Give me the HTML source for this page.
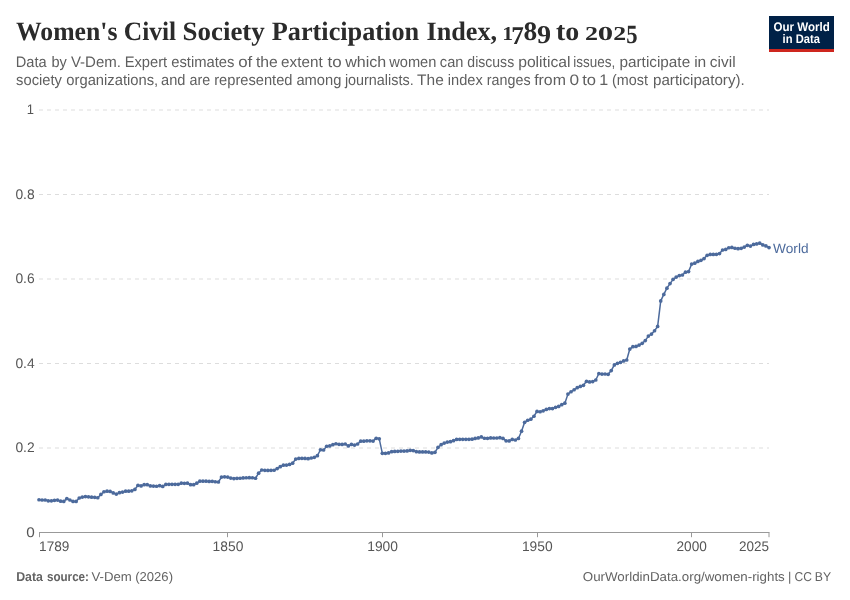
<!DOCTYPE html>
<html lang="en">
<head>
<meta charset="utf-8">
<title>Women's Civil Society Participation Index, 1789 to 2025</title>
<style>
html,body{margin:0;padding:0;background:#fff;}
body{width:850px;height:600px;overflow:hidden;font-family:"Liberation Sans",sans-serif;}
svg{display:block;}
text{white-space:pre;}
</style>
</head>
<body>
<svg width="850" height="600" viewBox="0 0 850 600" text-rendering="geometricPrecision">
<rect x="0" y="0" width="850" height="600" fill="#ffffff"/>

<text id="title" y="40.35" font-size="26.5" font-weight="bold" fill="#2b2b2b" font-family='"Liberation Serif", serif'><tspan x="16.10" textLength="101.36" lengthAdjust="spacingAndGlyphs">Women's</tspan> <tspan x="123.80" textLength="52.41" lengthAdjust="spacingAndGlyphs">Civil</tspan> <tspan x="182.54" textLength="82.26" lengthAdjust="spacingAndGlyphs">Society</tspan> <tspan x="271.79" textLength="147.35" lengthAdjust="spacingAndGlyphs">Participation</tspan> <tspan x="426.58" textLength="70.54" lengthAdjust="spacingAndGlyphs">Index,</tspan> <tspan><tspan x="502.24" textLength="10.87" lengthAdjust="spacingAndGlyphs" y="40.2" font-size="19.6">1</tspan><tspan x="511.33" textLength="12.56" lengthAdjust="spacingAndGlyphs" y="43.7" font-size="25.6">7</tspan><tspan x="523.54" textLength="13.71" lengthAdjust="spacingAndGlyphs" y="40.3" font-size="26.6">8</tspan><tspan x="537.03" textLength="14.06" lengthAdjust="spacingAndGlyphs" y="43.3" font-size="25.6">9</tspan></tspan><tspan y="40.35"> </tspan><tspan x="555.96" textLength="23.31" lengthAdjust="spacingAndGlyphs">to</tspan> <tspan><tspan x="584.95" textLength="13.00" lengthAdjust="spacingAndGlyphs" y="40.2" font-size="19.8">2</tspan><tspan x="597.81" textLength="15.37" lengthAdjust="spacingAndGlyphs" y="40.3" font-size="19.8">0</tspan><tspan x="613.36" textLength="12.88" lengthAdjust="spacingAndGlyphs" y="40.2" font-size="19.8">2</tspan><tspan x="626.19" textLength="11.31" lengthAdjust="spacingAndGlyphs" y="43.4" font-size="26.2">5</tspan></tspan><tspan y="40.35"> </tspan></text>
<text id="sub1" y="66.6" font-size="15.2" font-weight="normal" fill="#5f5f5f" font-family='"Liberation Sans", sans-serif'><tspan x="15.74" textLength="30.91" lengthAdjust="spacingAndGlyphs">Data</tspan> <tspan x="51.54" textLength="15.36" lengthAdjust="spacingAndGlyphs">by</tspan> <tspan x="70.90" textLength="50.11" lengthAdjust="spacingAndGlyphs">V-Dem.</tspan> <tspan x="124.64" textLength="42.59" lengthAdjust="spacingAndGlyphs">Expert</tspan> <tspan x="171.22" textLength="63.27" lengthAdjust="spacingAndGlyphs">estimates</tspan> <tspan x="238.23" textLength="14.08" lengthAdjust="spacingAndGlyphs">of</tspan> <tspan x="255.99" textLength="21.88" lengthAdjust="spacingAndGlyphs">the</tspan> <tspan x="281.10" textLength="41.52" lengthAdjust="spacingAndGlyphs">extent</tspan> <tspan x="327.48" textLength="14.14" lengthAdjust="spacingAndGlyphs">to</tspan> <tspan x="345.21" textLength="41.10" lengthAdjust="spacingAndGlyphs">which</tspan> <tspan x="389.20" textLength="47.22" lengthAdjust="spacingAndGlyphs">women</tspan> <tspan x="439.82" textLength="23.60" lengthAdjust="spacingAndGlyphs">can</tspan> <tspan x="467.35" textLength="46.82" lengthAdjust="spacingAndGlyphs">discuss</tspan> <tspan x="518.17" textLength="52.34" lengthAdjust="spacingAndGlyphs">political</tspan> <tspan x="573.21" textLength="41.96" lengthAdjust="spacingAndGlyphs">issues,</tspan> <tspan x="619.49" textLength="70.67" lengthAdjust="spacingAndGlyphs">participate</tspan> <tspan x="694.18" textLength="12.10" lengthAdjust="spacingAndGlyphs">in</tspan> <tspan x="709.89" textLength="25.70" lengthAdjust="spacingAndGlyphs">civil</tspan></text>
<text id="sub2" y="84.6" font-size="15.2" font-weight="normal" fill="#5f5f5f" font-family='"Liberation Sans", sans-serif'><tspan x="16.11" textLength="45.89" lengthAdjust="spacingAndGlyphs">society</tspan> <tspan x="66.32" textLength="91.87" lengthAdjust="spacingAndGlyphs">organizations,</tspan> <tspan x="161.12" textLength="24.39" lengthAdjust="spacingAndGlyphs">and</tspan> <tspan x="189.44" textLength="20.68" lengthAdjust="spacingAndGlyphs">are</tspan> <tspan x="214.23" textLength="78.29" lengthAdjust="spacingAndGlyphs">represented</tspan> <tspan x="296.42" textLength="45.00" lengthAdjust="spacingAndGlyphs">among</tspan> <tspan x="344.88" textLength="68.77" lengthAdjust="spacingAndGlyphs">journalists.</tspan> <tspan x="417.09" textLength="26.67" lengthAdjust="spacingAndGlyphs">The</tspan> <tspan x="447.84" textLength="34.96" lengthAdjust="spacingAndGlyphs">index</tspan> <tspan x="486.86" textLength="43.71" lengthAdjust="spacingAndGlyphs">ranges</tspan> <tspan x="534.19" textLength="31.71" lengthAdjust="spacingAndGlyphs">from</tspan> <tspan x="569.43" textLength="9.60" lengthAdjust="spacingAndGlyphs">0</tspan> <tspan x="582.28" textLength="13.82" lengthAdjust="spacingAndGlyphs">to</tspan> <tspan x="599.23" textLength="8.96" lengthAdjust="spacingAndGlyphs">1</tspan> <tspan x="612.05" textLength="35.87" lengthAdjust="spacingAndGlyphs">(most</tspan> <tspan x="653.00" textLength="91.71" lengthAdjust="spacingAndGlyphs">participatory).</tspan></text>
<g id="logo"><rect x="769" y="16" width="65" height="36" fill="#002147"/><rect x="769" y="49" width="65" height="3" fill="#ce261e"/>
<text id="logo1" x="773.53" y="30.6" font-size="12.4" fill="#ffffff" font-weight="bold" font-family='"Liberation Sans", sans-serif' textLength="56.19" lengthAdjust="spacingAndGlyphs">Our World</text>
<text id="logo2" x="782.58" y="42.5" font-size="12.4" fill="#ffffff" font-weight="bold" font-family='"Liberation Sans", sans-serif' textLength="37.33" lengthAdjust="spacingAndGlyphs">in Data</text>
</g>
<g id="grid" stroke="#dddddd" stroke-width="1" stroke-dasharray="4,4" fill="none">
<line x1="39" x2="769" y1="448.0" y2="448.0"/>
<line x1="39" x2="769" y1="363.5" y2="363.5"/>
<line x1="39" x2="769" y1="279.0" y2="279.0"/>
<line x1="39" x2="769" y1="194.5" y2="194.5"/>
<line x1="39" x2="769" y1="110.0" y2="110.0"/>
</g>
<text id="yl0" x="26.25" y="536.7" font-size="13.9" fill="#555555" font-weight="normal" font-family='"Liberation Sans", sans-serif' textLength="8.54" lengthAdjust="spacingAndGlyphs">0</text>
<text id="yl0_2" x="15.40" y="452.2" font-size="13.9" fill="#555555" font-weight="normal" font-family='"Liberation Sans", sans-serif' textLength="19.22" lengthAdjust="spacingAndGlyphs">0.2</text>
<text id="yl0_4" x="15.40" y="367.7" font-size="13.9" fill="#555555" font-weight="normal" font-family='"Liberation Sans", sans-serif' textLength="19.23" lengthAdjust="spacingAndGlyphs">0.4</text>
<text id="yl0_6" x="15.40" y="283.2" font-size="13.9" fill="#555555" font-weight="normal" font-family='"Liberation Sans", sans-serif' textLength="19.23" lengthAdjust="spacingAndGlyphs">0.6</text>
<text id="yl0_8" x="15.40" y="198.7" font-size="13.9" fill="#555555" font-weight="normal" font-family='"Liberation Sans", sans-serif' textLength="19.23" lengthAdjust="spacingAndGlyphs">0.8</text>
<text id="yl1" x="26.77" y="114.2" font-size="13.9" fill="#555555" font-weight="normal" font-family='"Liberation Sans", sans-serif' textLength="7.22" lengthAdjust="spacingAndGlyphs">1</text>
<g id="xaxis" stroke="#999999" stroke-width="1" fill="none">
<line x1="39" x2="769.5" y1="532.5" y2="532.5"/>
<line x1="39.5" x2="39.5" y1="532.5" y2="537.2"/>
<line x1="227.5" x2="227.5" y1="532.5" y2="537.2"/>
<line x1="382.5" x2="382.5" y1="532.5" y2="537.2"/>
<line x1="537.5" x2="537.5" y1="532.5" y2="537.2"/>
<line x1="691.5" x2="691.5" y1="532.5" y2="537.2"/>
<line x1="769" x2="769" y1="532.5" y2="537.2"/>
</g>
<text id="xl1789" x="39.12" y="551.0" font-size="13.9" fill="#555555" font-weight="normal" font-family='"Liberation Sans", sans-serif' textLength="30.30" lengthAdjust="spacingAndGlyphs">1789</text>
<text id="xl1850" x="212.61" y="551.0" font-size="13.9" fill="#555555" font-weight="normal" font-family='"Liberation Sans", sans-serif' textLength="30.72" lengthAdjust="spacingAndGlyphs">1850</text>
<text id="xl1900" x="367.21" y="551.0" font-size="13.9" fill="#555555" font-weight="normal" font-family='"Liberation Sans", sans-serif' textLength="30.72" lengthAdjust="spacingAndGlyphs">1900</text>
<text id="xl1950" x="521.91" y="551.0" font-size="13.9" fill="#555555" font-weight="normal" font-family='"Liberation Sans", sans-serif' textLength="30.72" lengthAdjust="spacingAndGlyphs">1950</text>
<text id="xl2000" x="676.51" y="551.0" font-size="13.9" fill="#555555" font-weight="normal" font-family='"Liberation Sans", sans-serif' textLength="30.31" lengthAdjust="spacingAndGlyphs">2000</text>
<text id="xl2025" x="739.02" y="551.0" font-size="13.9" fill="#555555" font-weight="normal" font-family='"Liberation Sans", sans-serif' textLength="30.00" lengthAdjust="spacingAndGlyphs">2025</text>
<g id="series"><polyline points="39.0,499.76 42.09,500.0 45.19,500.0 48.28,500.82 51.37,500.82 54.47,500.35 57.56,500.12 60.65,501.18 63.75,501.41 66.84,498.59 69.93,500.0 73.03,501.41 76.12,501.41 79.21,498.0 82.31,497.06 85.4,496.59 88.49,496.82 91.58,497.18 94.68,497.29 97.77,497.76 100.86,494.47 103.96,491.76 107.05,491.18 110.14,491.41 113.24,492.94 116.33,494.12 119.42,492.71 122.52,492.12 125.61,491.18 128.7,491.18 131.8,490.82 134.89,489.41 137.98,485.29 141.08,485.88 144.17,484.71 147.26,484.71 150.36,485.88 153.45,486.12 156.54,486.24 159.64,485.65 162.73,486.47 165.82,484.47 168.92,484.35 172.01,484.35 175.1,484.35 178.19,484.35 181.29,483.18 184.38,483.29 187.47,483.18 190.57,484.71 193.66,484.71 196.75,483.18 199.85,481.18 202.94,481.18 206.03,481.18 209.13,481.41 212.22,481.29 215.31,481.76 218.41,482.0 221.5,477.06 224.59,476.82 227.69,477.06 230.78,478.12 233.87,478.59 236.97,478.35 240.06,478.24 243.15,477.88 246.25,477.76 249.34,477.65 252.43,477.76 255.53,478.24 258.62,473.18 261.71,470.0 264.81,470.35 267.9,470.47 270.99,470.35 274.08,470.24 277.18,468.59 280.27,466.71 283.36,465.18 286.46,465.06 289.55,464.47 292.64,463.18 295.74,459.06 298.83,458.47 301.92,458.35 305.02,458.47 308.11,458.71 311.2,458.0 314.3,457.29 317.39,455.65 320.48,449.76 323.58,450.0 326.67,446.24 329.76,445.88 332.86,444.71 335.95,443.76 339.04,444.35 342.14,444.47 345.23,444.0 348.32,445.88 351.42,444.47 354.51,445.06 357.6,444.0 360.69,441.18 363.79,441.18 366.88,440.82 369.97,440.82 373.07,441.06 376.16,438.35 379.25,438.82 382.35,453.29 385.44,453.29 388.53,452.94 391.63,451.65 394.72,451.41 397.81,451.29 400.91,451.06 404.0,451.06 407.09,450.94 410.19,450.35 413.28,450.59 416.37,451.65 419.47,451.88 422.56,451.88 425.65,451.88 428.75,452.12 431.84,452.94 434.93,452.35 438.03,447.29 441.12,444.71 444.21,443.06 447.31,442.12 450.4,441.65 453.49,440.71 456.58,439.41 459.68,439.29 462.77,439.29 465.86,439.29 468.96,439.29 472.05,439.18 475.14,438.47 478.24,437.88 481.33,436.88 484.42,438.24 487.52,438.35 490.61,437.88 493.7,438.0 496.8,438.0 499.89,437.65 502.98,438.47 506.08,440.82 509.17,440.94 512.26,439.41 515.36,440.0 518.45,438.47 521.54,431.18 524.64,422.35 527.73,420.24 530.82,419.18 533.92,416.24 537.01,411.41 540.1,411.76 543.19,410.82 546.29,409.41 549.38,408.59 552.47,408.59 555.57,407.29 558.66,406.47 561.75,404.71 564.85,403.18 567.94,394.12 571.03,391.76 574.13,389.76 577.22,387.65 580.31,386.47 583.41,385.29 586.5,381.29 589.59,381.88 592.69,381.53 595.78,380.0 598.87,373.53 601.97,374.12 605.06,374.0 608.15,374.35 611.25,370.59 614.34,364.94 617.43,363.29 620.53,362.35 623.62,360.94 626.71,360.0 629.81,349.06 632.9,346.71 635.99,346.47 639.08,345.06 642.18,343.29 645.27,340.59 648.36,336.12 651.46,334.12 654.55,330.74 657.64,326.41 660.74,300.88 663.83,294.41 666.92,288.18 670.02,283.59 673.11,279.35 676.2,277.12 679.3,275.59 682.39,275.0 685.48,272.15 688.58,271.53 691.67,264.12 694.76,263.18 697.86,261.41 700.95,260.35 704.04,258.59 707.14,255.29 710.23,254.47 713.32,254.47 716.42,254.35 719.51,253.53 722.6,250.0 725.69,249.41 728.79,247.76 731.88,247.41 734.97,248.24 738.07,248.71 741.16,248.35 744.25,247.06 747.35,245.29 750.44,246.12 753.53,244.47 756.63,243.88 759.72,243.18 762.81,244.94 765.91,245.88 769.0,247.53" fill="none" stroke="#4c6a9c" stroke-width="1.5" stroke-linejoin="round" stroke-linecap="round"/>
<g fill="#4c6a9c"><circle cx="39.0" cy="499.76" r="1.85"/><circle cx="42.09" cy="500.0" r="1.85"/><circle cx="45.19" cy="500.0" r="1.85"/><circle cx="48.28" cy="500.82" r="1.85"/><circle cx="51.37" cy="500.82" r="1.85"/><circle cx="54.47" cy="500.35" r="1.85"/><circle cx="57.56" cy="500.12" r="1.85"/><circle cx="60.65" cy="501.18" r="1.85"/><circle cx="63.75" cy="501.41" r="1.85"/><circle cx="66.84" cy="498.59" r="1.85"/><circle cx="69.93" cy="500.0" r="1.85"/><circle cx="73.03" cy="501.41" r="1.85"/><circle cx="76.12" cy="501.41" r="1.85"/><circle cx="79.21" cy="498.0" r="1.85"/><circle cx="82.31" cy="497.06" r="1.85"/><circle cx="85.4" cy="496.59" r="1.85"/><circle cx="88.49" cy="496.82" r="1.85"/><circle cx="91.58" cy="497.18" r="1.85"/><circle cx="94.68" cy="497.29" r="1.85"/><circle cx="97.77" cy="497.76" r="1.85"/><circle cx="100.86" cy="494.47" r="1.85"/><circle cx="103.96" cy="491.76" r="1.85"/><circle cx="107.05" cy="491.18" r="1.85"/><circle cx="110.14" cy="491.41" r="1.85"/><circle cx="113.24" cy="492.94" r="1.85"/><circle cx="116.33" cy="494.12" r="1.85"/><circle cx="119.42" cy="492.71" r="1.85"/><circle cx="122.52" cy="492.12" r="1.85"/><circle cx="125.61" cy="491.18" r="1.85"/><circle cx="128.7" cy="491.18" r="1.85"/><circle cx="131.8" cy="490.82" r="1.85"/><circle cx="134.89" cy="489.41" r="1.85"/><circle cx="137.98" cy="485.29" r="1.85"/><circle cx="141.08" cy="485.88" r="1.85"/><circle cx="144.17" cy="484.71" r="1.85"/><circle cx="147.26" cy="484.71" r="1.85"/><circle cx="150.36" cy="485.88" r="1.85"/><circle cx="153.45" cy="486.12" r="1.85"/><circle cx="156.54" cy="486.24" r="1.85"/><circle cx="159.64" cy="485.65" r="1.85"/><circle cx="162.73" cy="486.47" r="1.85"/><circle cx="165.82" cy="484.47" r="1.85"/><circle cx="168.92" cy="484.35" r="1.85"/><circle cx="172.01" cy="484.35" r="1.85"/><circle cx="175.1" cy="484.35" r="1.85"/><circle cx="178.19" cy="484.35" r="1.85"/><circle cx="181.29" cy="483.18" r="1.85"/><circle cx="184.38" cy="483.29" r="1.85"/><circle cx="187.47" cy="483.18" r="1.85"/><circle cx="190.57" cy="484.71" r="1.85"/><circle cx="193.66" cy="484.71" r="1.85"/><circle cx="196.75" cy="483.18" r="1.85"/><circle cx="199.85" cy="481.18" r="1.85"/><circle cx="202.94" cy="481.18" r="1.85"/><circle cx="206.03" cy="481.18" r="1.85"/><circle cx="209.13" cy="481.41" r="1.85"/><circle cx="212.22" cy="481.29" r="1.85"/><circle cx="215.31" cy="481.76" r="1.85"/><circle cx="218.41" cy="482.0" r="1.85"/><circle cx="221.5" cy="477.06" r="1.85"/><circle cx="224.59" cy="476.82" r="1.85"/><circle cx="227.69" cy="477.06" r="1.85"/><circle cx="230.78" cy="478.12" r="1.85"/><circle cx="233.87" cy="478.59" r="1.85"/><circle cx="236.97" cy="478.35" r="1.85"/><circle cx="240.06" cy="478.24" r="1.85"/><circle cx="243.15" cy="477.88" r="1.85"/><circle cx="246.25" cy="477.76" r="1.85"/><circle cx="249.34" cy="477.65" r="1.85"/><circle cx="252.43" cy="477.76" r="1.85"/><circle cx="255.53" cy="478.24" r="1.85"/><circle cx="258.62" cy="473.18" r="1.85"/><circle cx="261.71" cy="470.0" r="1.85"/><circle cx="264.81" cy="470.35" r="1.85"/><circle cx="267.9" cy="470.47" r="1.85"/><circle cx="270.99" cy="470.35" r="1.85"/><circle cx="274.08" cy="470.24" r="1.85"/><circle cx="277.18" cy="468.59" r="1.85"/><circle cx="280.27" cy="466.71" r="1.85"/><circle cx="283.36" cy="465.18" r="1.85"/><circle cx="286.46" cy="465.06" r="1.85"/><circle cx="289.55" cy="464.47" r="1.85"/><circle cx="292.64" cy="463.18" r="1.85"/><circle cx="295.74" cy="459.06" r="1.85"/><circle cx="298.83" cy="458.47" r="1.85"/><circle cx="301.92" cy="458.35" r="1.85"/><circle cx="305.02" cy="458.47" r="1.85"/><circle cx="308.11" cy="458.71" r="1.85"/><circle cx="311.2" cy="458.0" r="1.85"/><circle cx="314.3" cy="457.29" r="1.85"/><circle cx="317.39" cy="455.65" r="1.85"/><circle cx="320.48" cy="449.76" r="1.85"/><circle cx="323.58" cy="450.0" r="1.85"/><circle cx="326.67" cy="446.24" r="1.85"/><circle cx="329.76" cy="445.88" r="1.85"/><circle cx="332.86" cy="444.71" r="1.85"/><circle cx="335.95" cy="443.76" r="1.85"/><circle cx="339.04" cy="444.35" r="1.85"/><circle cx="342.14" cy="444.47" r="1.85"/><circle cx="345.23" cy="444.0" r="1.85"/><circle cx="348.32" cy="445.88" r="1.85"/><circle cx="351.42" cy="444.47" r="1.85"/><circle cx="354.51" cy="445.06" r="1.85"/><circle cx="357.6" cy="444.0" r="1.85"/><circle cx="360.69" cy="441.18" r="1.85"/><circle cx="363.79" cy="441.18" r="1.85"/><circle cx="366.88" cy="440.82" r="1.85"/><circle cx="369.97" cy="440.82" r="1.85"/><circle cx="373.07" cy="441.06" r="1.85"/><circle cx="376.16" cy="438.35" r="1.85"/><circle cx="379.25" cy="438.82" r="1.85"/><circle cx="382.35" cy="453.29" r="1.85"/><circle cx="385.44" cy="453.29" r="1.85"/><circle cx="388.53" cy="452.94" r="1.85"/><circle cx="391.63" cy="451.65" r="1.85"/><circle cx="394.72" cy="451.41" r="1.85"/><circle cx="397.81" cy="451.29" r="1.85"/><circle cx="400.91" cy="451.06" r="1.85"/><circle cx="404.0" cy="451.06" r="1.85"/><circle cx="407.09" cy="450.94" r="1.85"/><circle cx="410.19" cy="450.35" r="1.85"/><circle cx="413.28" cy="450.59" r="1.85"/><circle cx="416.37" cy="451.65" r="1.85"/><circle cx="419.47" cy="451.88" r="1.85"/><circle cx="422.56" cy="451.88" r="1.85"/><circle cx="425.65" cy="451.88" r="1.85"/><circle cx="428.75" cy="452.12" r="1.85"/><circle cx="431.84" cy="452.94" r="1.85"/><circle cx="434.93" cy="452.35" r="1.85"/><circle cx="438.03" cy="447.29" r="1.85"/><circle cx="441.12" cy="444.71" r="1.85"/><circle cx="444.21" cy="443.06" r="1.85"/><circle cx="447.31" cy="442.12" r="1.85"/><circle cx="450.4" cy="441.65" r="1.85"/><circle cx="453.49" cy="440.71" r="1.85"/><circle cx="456.58" cy="439.41" r="1.85"/><circle cx="459.68" cy="439.29" r="1.85"/><circle cx="462.77" cy="439.29" r="1.85"/><circle cx="465.86" cy="439.29" r="1.85"/><circle cx="468.96" cy="439.29" r="1.85"/><circle cx="472.05" cy="439.18" r="1.85"/><circle cx="475.14" cy="438.47" r="1.85"/><circle cx="478.24" cy="437.88" r="1.85"/><circle cx="481.33" cy="436.88" r="1.85"/><circle cx="484.42" cy="438.24" r="1.85"/><circle cx="487.52" cy="438.35" r="1.85"/><circle cx="490.61" cy="437.88" r="1.85"/><circle cx="493.7" cy="438.0" r="1.85"/><circle cx="496.8" cy="438.0" r="1.85"/><circle cx="499.89" cy="437.65" r="1.85"/><circle cx="502.98" cy="438.47" r="1.85"/><circle cx="506.08" cy="440.82" r="1.85"/><circle cx="509.17" cy="440.94" r="1.85"/><circle cx="512.26" cy="439.41" r="1.85"/><circle cx="515.36" cy="440.0" r="1.85"/><circle cx="518.45" cy="438.47" r="1.85"/><circle cx="521.54" cy="431.18" r="1.85"/><circle cx="524.64" cy="422.35" r="1.85"/><circle cx="527.73" cy="420.24" r="1.85"/><circle cx="530.82" cy="419.18" r="1.85"/><circle cx="533.92" cy="416.24" r="1.85"/><circle cx="537.01" cy="411.41" r="1.85"/><circle cx="540.1" cy="411.76" r="1.85"/><circle cx="543.19" cy="410.82" r="1.85"/><circle cx="546.29" cy="409.41" r="1.85"/><circle cx="549.38" cy="408.59" r="1.85"/><circle cx="552.47" cy="408.59" r="1.85"/><circle cx="555.57" cy="407.29" r="1.85"/><circle cx="558.66" cy="406.47" r="1.85"/><circle cx="561.75" cy="404.71" r="1.85"/><circle cx="564.85" cy="403.18" r="1.85"/><circle cx="567.94" cy="394.12" r="1.85"/><circle cx="571.03" cy="391.76" r="1.85"/><circle cx="574.13" cy="389.76" r="1.85"/><circle cx="577.22" cy="387.65" r="1.85"/><circle cx="580.31" cy="386.47" r="1.85"/><circle cx="583.41" cy="385.29" r="1.85"/><circle cx="586.5" cy="381.29" r="1.85"/><circle cx="589.59" cy="381.88" r="1.85"/><circle cx="592.69" cy="381.53" r="1.85"/><circle cx="595.78" cy="380.0" r="1.85"/><circle cx="598.87" cy="373.53" r="1.85"/><circle cx="601.97" cy="374.12" r="1.85"/><circle cx="605.06" cy="374.0" r="1.85"/><circle cx="608.15" cy="374.35" r="1.85"/><circle cx="611.25" cy="370.59" r="1.85"/><circle cx="614.34" cy="364.94" r="1.85"/><circle cx="617.43" cy="363.29" r="1.85"/><circle cx="620.53" cy="362.35" r="1.85"/><circle cx="623.62" cy="360.94" r="1.85"/><circle cx="626.71" cy="360.0" r="1.85"/><circle cx="629.81" cy="349.06" r="1.85"/><circle cx="632.9" cy="346.71" r="1.85"/><circle cx="635.99" cy="346.47" r="1.85"/><circle cx="639.08" cy="345.06" r="1.85"/><circle cx="642.18" cy="343.29" r="1.85"/><circle cx="645.27" cy="340.59" r="1.85"/><circle cx="648.36" cy="336.12" r="1.85"/><circle cx="651.46" cy="334.12" r="1.85"/><circle cx="654.55" cy="330.74" r="1.85"/><circle cx="657.64" cy="326.41" r="1.85"/><circle cx="660.74" cy="300.88" r="1.85"/><circle cx="663.83" cy="294.41" r="1.85"/><circle cx="666.92" cy="288.18" r="1.85"/><circle cx="670.02" cy="283.59" r="1.85"/><circle cx="673.11" cy="279.35" r="1.85"/><circle cx="676.2" cy="277.12" r="1.85"/><circle cx="679.3" cy="275.59" r="1.85"/><circle cx="682.39" cy="275.0" r="1.85"/><circle cx="685.48" cy="272.15" r="1.85"/><circle cx="688.58" cy="271.53" r="1.85"/><circle cx="691.67" cy="264.12" r="1.85"/><circle cx="694.76" cy="263.18" r="1.85"/><circle cx="697.86" cy="261.41" r="1.85"/><circle cx="700.95" cy="260.35" r="1.85"/><circle cx="704.04" cy="258.59" r="1.85"/><circle cx="707.14" cy="255.29" r="1.85"/><circle cx="710.23" cy="254.47" r="1.85"/><circle cx="713.32" cy="254.47" r="1.85"/><circle cx="716.42" cy="254.35" r="1.85"/><circle cx="719.51" cy="253.53" r="1.85"/><circle cx="722.6" cy="250.0" r="1.85"/><circle cx="725.69" cy="249.41" r="1.85"/><circle cx="728.79" cy="247.76" r="1.85"/><circle cx="731.88" cy="247.41" r="1.85"/><circle cx="734.97" cy="248.24" r="1.85"/><circle cx="738.07" cy="248.71" r="1.85"/><circle cx="741.16" cy="248.35" r="1.85"/><circle cx="744.25" cy="247.06" r="1.85"/><circle cx="747.35" cy="245.29" r="1.85"/><circle cx="750.44" cy="246.12" r="1.85"/><circle cx="753.53" cy="244.47" r="1.85"/><circle cx="756.63" cy="243.88" r="1.85"/><circle cx="759.72" cy="243.18" r="1.85"/><circle cx="762.81" cy="244.94" r="1.85"/><circle cx="765.91" cy="245.88" r="1.85"/><circle cx="769.0" cy="247.53" r="1.85"/></g></g>
<text id="world" x="773.10" y="252.6" font-size="13.5" fill="#4c6a9c" font-weight="normal" font-family='"Liberation Sans", sans-serif' textLength="35.42" lengthAdjust="spacingAndGlyphs">World</text>
<text id="foot1" y="581.0" font-size="12.9" font-weight="normal" fill="#636363" font-family='"Liberation Sans", sans-serif'><tspan x="16.13" textLength="26.75" lengthAdjust="spacingAndGlyphs" font-weight="bold">Data</tspan> <tspan x="46.94" textLength="42.04" lengthAdjust="spacingAndGlyphs" font-weight="bold">source:</tspan> <tspan x="91.50" textLength="40.37" lengthAdjust="spacingAndGlyphs">V-Dem</tspan> <tspan x="135.19" textLength="37.82" lengthAdjust="spacingAndGlyphs">(2026)</tspan></text>
<text id="foot2" y="581.0" font-size="12.9" font-weight="normal" fill="#636363" font-family='"Liberation Sans", sans-serif'><tspan x="582.78" textLength="201.98" lengthAdjust="spacingAndGlyphs">OurWorldinData.org/women-rights</tspan> <tspan x="788.00" textLength="3.35" lengthAdjust="spacingAndGlyphs">|</tspan> <tspan x="794.44" textLength="17.45" lengthAdjust="spacingAndGlyphs">CC</tspan> <tspan x="814.85" textLength="16.34" lengthAdjust="spacingAndGlyphs">BY</tspan></text>
</svg>
</body>
</html>
